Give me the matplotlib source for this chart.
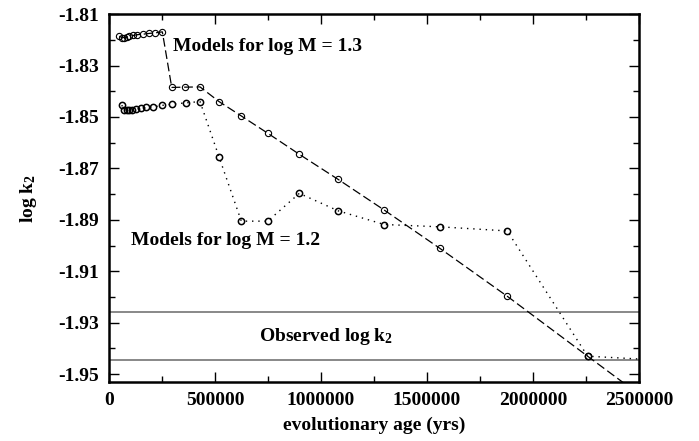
import numpy as np
import matplotlib
matplotlib.use('Agg')
import matplotlib.pyplot as plt
from matplotlib.ticker import MultipleLocator, FixedLocator

plt.rcParams['font.family'] = ['Liberation Serif', 'DejaVu Serif']
plt.rcParams['font.weight'] = 'bold'
plt.rcParams['mathtext.fontset'] = 'custom'
plt.rcParams['mathtext.rm'] = 'Liberation Serif:bold'
plt.rcParams['mathtext.it'] = 'Liberation Serif:bold'
plt.rcParams['mathtext.bf'] = 'Liberation Serif:bold'

# log M = 1.3 track: age (yrs) and log k2; last point lies outside the frame
age_m13 = [48600, 61300, 70800, 83500, 95800, 114600, 133500, 161800, 190100, 217000,
           251500, 295800, 358500, 429200, 518900, 624100, 748600, 897700, 1081700,
           1298700, 1561400, 1878900, 2258000, 2700000]
logk2_m13 = [-1.8186, -1.8191, -1.8191, -1.8188, -1.8186, -1.8183, -1.8180, -1.8178,
             -1.8175, -1.8173, -1.8169, -1.8385, -1.8384, -1.8383, -1.8440, -1.8496,
             -1.8563, -1.8645, -1.8743, -1.8862, -1.9011, -1.9197, -1.9430, -1.9700]

# log M = 1.2 track
age_m12 = [59900, 70800, 83500, 95800, 108500, 127400, 149500, 174500, 209000, 248600,
           297200, 363200, 429200, 518900, 624100, 748600, 897700, 1081700, 1298700,
           1561400, 1878900, 2258000, 2700000]
logk2_m12 = [-1.8454, -1.8471, -1.8473, -1.8473, -1.8471, -1.8468, -1.8466, -1.8463,
             -1.8461, -1.8455, -1.8450, -1.8445, -1.8440, -1.8655, -1.8905, -1.8905,
             -1.8797, -1.8865, -1.8918, -1.8927, -1.8943, -1.9430, -1.9450]

# observed range of log k2
obs_logk2 = [-1.926, -1.9445]

fig = plt.figure(figsize=(6.99, 4.41), dpi=100)
ax = fig.add_axes([0.156, 0.134, 0.758, 0.834])

# observed band limits
for v in obs_logk2:
    ax.axhline(v, color='#7f7f7f', lw=1.3, zorder=1)

ax.plot(age_m13, logk2_m13, color='black', lw=0.9, dashes=(7, 3),
        marker='o', ms=4.5, mfc='none', mec='black', mew=0.8)
ax.plot(age_m12, logk2_m12, color='black', lw=1.0, dashes=(1, 3.5),
        marker='o', ms=4.5, mfc='none', mec='black', mew=1.1)

ax.set_xlim(0, 2500000)
ax.set_ylim(-1.953, -1.81)

ax.xaxis.set_major_locator(MultipleLocator(500000))
ax.xaxis.set_minor_locator(MultipleLocator(250000))
ax.ticklabel_format(axis='x', style='plain', useOffset=False)
yt = np.arange(-1.95, -1.805, 0.02)
ax.yaxis.set_major_locator(FixedLocator(yt))
ax.yaxis.set_minor_locator(FixedLocator(np.arange(-1.94, -1.815, 0.02)))
ax.set_yticklabels(['%.2f' % v for v in yt])

ax.tick_params(which='both', direction='in', top=True, right=True, labelsize=14, pad=7)
ax.tick_params(which='major', length=7, width=1.0)
ax.tick_params(which='minor', length=4, width=1.0)
for s in ax.spines.values():
    s.set_linewidth(1.8)

ax.set_xlabel('evolutionary age (yrs)', fontsize=14, fontweight='bold', labelpad=6)
ax.set_ylabel('log k$_2$', fontsize=14, fontweight='bold', labelpad=14)

ax.text(301000, -1.8227, 'Models for log M = 1.3', fontsize=14, fontweight='bold',
        va='center', ha='left')
ax.text(102000, -1.8979, 'Models for log M = 1.2', fontsize=14, fontweight='bold',
        va='center', ha='left')
ax.text(1024000, -1.9352, 'Observed log k$_2$', fontsize=14, fontweight='bold',
        va='center', ha='center')

fig.savefig('out.png', dpi=100)
